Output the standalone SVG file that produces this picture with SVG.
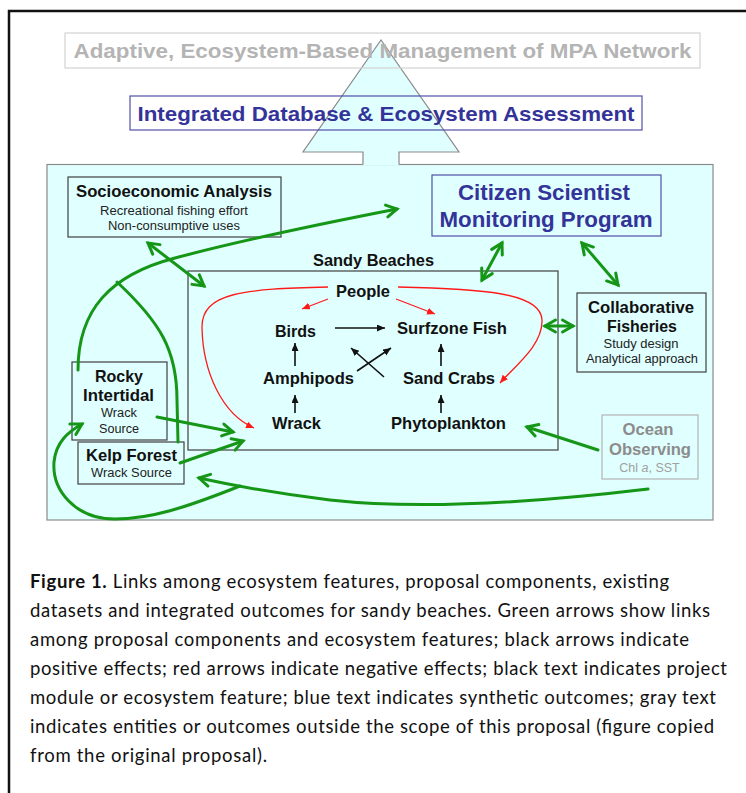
<svg xmlns="http://www.w3.org/2000/svg" width="746" height="793" viewBox="0 0 746 793">
  <style>
    .sans { font-family: "Liberation Sans", Arial, sans-serif; }
    .b { font-weight: bold; }
    .node { fill: none; stroke: #404040; stroke-width: 1.2; }
    .t-node { font-family: "Liberation Sans", Arial, sans-serif; font-weight: bold; font-size: 16.5px; fill: #111; text-anchor: middle; }
    .t-sub { font-family: "Liberation Sans", Arial, sans-serif; font-size: 12.5px; fill: #222; text-anchor: middle; }
    .t-blue { font-family: "Liberation Sans", Arial, sans-serif; font-weight: bold; fill: #333399; text-anchor: middle; }
    .t-gray { font-family: "Liberation Sans", Arial, sans-serif; font-weight: bold; fill: #b4b4b4; text-anchor: middle; }
    .green { fill: none; stroke: #169616; stroke-width: 3; stroke-linecap: round; }
    .green2 { marker-start: url(#gh); marker-end: url(#gh); }
    .green1 { marker-end: url(#gh); }
    .black { fill: none; stroke: #111; stroke-width: 1.6; marker-end: url(#bh); }
    .red { fill: none; stroke: #ff1a1a; stroke-width: 1.3; marker-end: url(#rh); }
    .cap { font-family: Lato, "Open Sans", sans-serif; font-size: 18.5px; fill: #111; }
  </style>
  <defs>
    <marker id="gh" markerUnits="userSpaceOnUse" markerWidth="16" markerHeight="16" refX="12" refY="7" orient="auto-start-reverse" overflow="visible">
      <path d="M1.5,1 L12,7 L1.5,13" fill="none" stroke="#169616" stroke-width="3" stroke-linecap="round" stroke-linejoin="miter"/>
    </marker>
    <marker id="bh" markerUnits="userSpaceOnUse" markerWidth="9" markerHeight="8" refX="8" refY="3.5" orient="auto">
      <path d="M0,0 L8,3.5 L0,7 z" fill="#111"/>
    </marker>
    <marker id="rh" markerUnits="userSpaceOnUse" markerWidth="9" markerHeight="8" refX="8" refY="3.5" orient="auto">
      <path d="M0,0 L8,3.5 L0,7 z" fill="#ff1a1a"/>
    </marker>
  </defs>

  <rect width="746" height="793" fill="#ffffff"/>

  <!-- page frame (top and left edges) -->
  <path d="M9,793 V11 H746" fill="none" stroke="#111" stroke-width="2.5"/>

  <!-- big cyan panel and upward arrow -->
  <g id="panel">
    <rect x="47" y="164.5" width="666" height="355.5" fill="#e0ffff" stroke="#8a8a8a" stroke-width="1.2"/>
    <path d="M363,165 V152 H303 L381,40 L459,152 H399 V165 Z" fill="#e0ffff" stroke="none"/>
    <path d="M363,164.5 V152 H303 L381,40 L459,152 H399 V164.5" fill="none" stroke="#8a8a8a" stroke-width="1.2"/>
  </g>

  <!-- outcome boxes above the panel -->
  <g id="management">
    <rect x="65" y="33" width="635" height="35" fill="none" stroke="#d2d2d2" stroke-width="1.2"/>
    <text x="382.5" y="58" class="t-gray" font-size="21" textLength="618" lengthAdjust="spacingAndGlyphs">Adaptive, Ecosystem-Based Management of MPA Network</text>
  </g>
  <g id="database">
    <rect x="130" y="96" width="512" height="34" fill="none" stroke="#5050a8" stroke-width="1.2"/>
    <text x="386" y="121" class="t-blue" font-size="21" textLength="497" lengthAdjust="spacingAndGlyphs">Integrated Database &amp; Ecosystem Assessment</text>
  </g>

  <!-- project modules -->
  <g id="socioeconomic">
    <rect x="68" y="177" width="213" height="60" class="node"/>
    <text x="174" y="197" class="t-node" font-size="16.5" textLength="196" lengthAdjust="spacingAndGlyphs">Socioeconomic Analysis</text>
    <text x="174" y="215" class="t-sub" textLength="148" lengthAdjust="spacingAndGlyphs">Recreational fishing effort</text>
    <text x="174" y="230" class="t-sub" textLength="132" lengthAdjust="spacingAndGlyphs">Non-consumptive uses</text>
  </g>
  <g id="citizen">
    <rect x="432" y="175" width="229" height="61" fill="none" stroke="#5050a8" stroke-width="1.2"/>
    <text x="544" y="200" class="t-blue" font-size="22" textLength="172" lengthAdjust="spacingAndGlyphs">Citizen Scientist</text>
    <text x="546" y="227" class="t-blue" font-size="22" textLength="213" lengthAdjust="spacingAndGlyphs">Monitoring Program</text>
  </g>
  <g id="collaborative">
    <rect x="577" y="293" width="129" height="79" class="node"/>
    <text x="641" y="313" class="t-node" font-size="16.5" textLength="106" lengthAdjust="spacingAndGlyphs">Collaborative</text>
    <text x="642" y="332" class="t-node" font-size="16.5" textLength="70" lengthAdjust="spacingAndGlyphs">Fisheries</text>
    <text x="641" y="348" class="t-sub" textLength="75" lengthAdjust="spacingAndGlyphs">Study design</text>
    <text x="642" y="363" class="t-sub" textLength="112" lengthAdjust="spacingAndGlyphs">Analytical approach</text>
  </g>
  <g id="rocky">
    <rect x="72" y="362" width="95" height="78" class="node"/>
    <text x="119" y="382" class="t-node" font-size="16.5" textLength="48" lengthAdjust="spacingAndGlyphs">Rocky</text>
    <text x="118.5" y="401" class="t-node" font-size="16.5" textLength="71" lengthAdjust="spacingAndGlyphs">Intertidal</text>
    <text x="119" y="417" class="t-sub" textLength="36" lengthAdjust="spacingAndGlyphs">Wrack</text>
    <text x="119" y="433" class="t-sub" textLength="40" lengthAdjust="spacingAndGlyphs">Source</text>
  </g>
  <g id="kelp">
    <rect x="78" y="442" width="106" height="42" class="node"/>
    <text x="131.5" y="461" class="t-node" font-size="16.5" textLength="91" lengthAdjust="spacingAndGlyphs">Kelp Forest</text>
    <text x="131.5" y="477" class="t-sub" textLength="81" lengthAdjust="spacingAndGlyphs">Wrack Source</text>
  </g>
  <g id="ocean">
    <rect x="602" y="415" width="96" height="64" fill="none" stroke="#b4b4b4" stroke-width="1.2"/>
    <text x="648" y="435" class="t-node" font-size="16.5" fill="#8c8c8c" style="fill:#8c8c8c" textLength="51" lengthAdjust="spacingAndGlyphs">Ocean</text>
    <text x="650" y="455" class="t-node" font-size="16.5" style="fill:#8c8c8c" textLength="82" lengthAdjust="spacingAndGlyphs">Observing</text>
    <text x="649.5" y="472" class="t-sub" style="fill:#a0a0a0">Chl <tspan font-style="italic">a</tspan>, SST</text>
  </g>

  <!-- sandy beach food web -->
  <g id="sandy-beaches">
    <rect x="188" y="271" width="370" height="179" class="node"/>
    <text x="373.5" y="266" class="t-node" font-size="16" textLength="121" lengthAdjust="spacingAndGlyphs">Sandy Beaches</text>
  </g>
  <g id="people"><text x="363" y="297" class="t-node" textLength="54" lengthAdjust="spacingAndGlyphs">People</text></g>
  <g id="birds"><text x="295.5" y="337" class="t-node" textLength="41" lengthAdjust="spacingAndGlyphs">Birds</text></g>
  <g id="surfzone-fish"><text x="452" y="334" class="t-node" textLength="110" lengthAdjust="spacingAndGlyphs">Surfzone Fish</text></g>
  <g id="amphipods"><text x="308.5" y="384" class="t-node" textLength="91" lengthAdjust="spacingAndGlyphs">Amphipods</text></g>
  <g id="sand-crabs"><text x="449" y="384" class="t-node" textLength="92" lengthAdjust="spacingAndGlyphs">Sand Crabs</text></g>
  <g id="wrack"><text x="296.5" y="429" class="t-node" textLength="49" lengthAdjust="spacingAndGlyphs">Wrack</text></g>
  <g id="phytoplankton"><text x="448.5" y="429" class="t-node" textLength="115" lengthAdjust="spacingAndGlyphs">Phytoplankton</text></g>

  <!-- connectors -->
  <g id="connectors">
    <!-- positive effects -->
    <path class="black" d="M335,328 L385,328"/>
    <path class="black" d="M295,366 L295,343"/>
    <path class="black" d="M295,413 L295,395"/>
    <path class="black" d="M441,413 L441,395"/>
    <path class="black" d="M441,366 L441,344"/>
    <path class="black" d="M357,371 L391,348"/>
    <path class="black" d="M384,377 L351,348"/>
    <!-- negative effects -->
    <path class="red" d="M328,299 L302,309"/>
    <path class="red" d="M396,299 L435,314"/>
    <path class="red" d="M328,287 C245,289 201,292 202,328 C203,372 222,414 254,428"/>
    <path class="red" d="M398,287 C480,289 541,292 542,320 C543,345 515,366 500,383"/>
    <!-- links among components -->
    <path class="green green2" d="M148,243 L204,286"/>
    <path class="green green2" d="M502,243 L482,280"/>
    <path class="green green2" d="M582,243 L618,285"/>
    <path class="green green2" d="M545,326 L573,326"/>
    <path class="green green1" d="M78,370 C78,310 110,275 175,258 C250,238 330,222 397,209"/>
    <path class="green" d="M117,282 C160,322 177,350 177,400 L178,442"/>
    <path class="green green1" d="M157,417 L233,432"/>
    <path class="green green1" d="M180,463 L243,441"/>
    <path class="green green1" d="M598,450 L527,427"/>
    <path class="green green1" d="M648,489 C540,502 420,510 330,500 C280,494 240,487 199,478"/>
    <path class="green green1" d="M240,486 C185,508 150,519 115,519 C75,519 52,490 54,462 C56,442 68,432 82,424"/>
  </g>

  <!-- caption -->
  <g id="caption" class="cap">
    <text x="30" y="588" textLength="639" lengthAdjust="spacing"><tspan font-weight="bold">Figure 1.</tspan> Links among ecosystem features, proposal components, existing</text>
    <text x="30" y="617" textLength="680" lengthAdjust="spacing">datasets and integrated outcomes for sandy beaches. Green arrows show links</text>
    <text x="30" y="646" textLength="659" lengthAdjust="spacing">among proposal components and ecosystem features; black arrows indicate</text>
    <text x="30" y="675" textLength="697" lengthAdjust="spacing">positive effects; red arrows indicate negative effects; black text indicates project</text>
    <text x="30" y="704" textLength="686" lengthAdjust="spacing">module or ecosystem feature; blue text indicates synthetic outcomes; gray text</text>
    <text x="30" y="733" textLength="684" lengthAdjust="spacing">indicates entities or outcomes outside the scope of this proposal (figure copied</text>
    <text x="30" y="762" textLength="237" lengthAdjust="spacing">from the original proposal).</text>
  </g>
</svg>
